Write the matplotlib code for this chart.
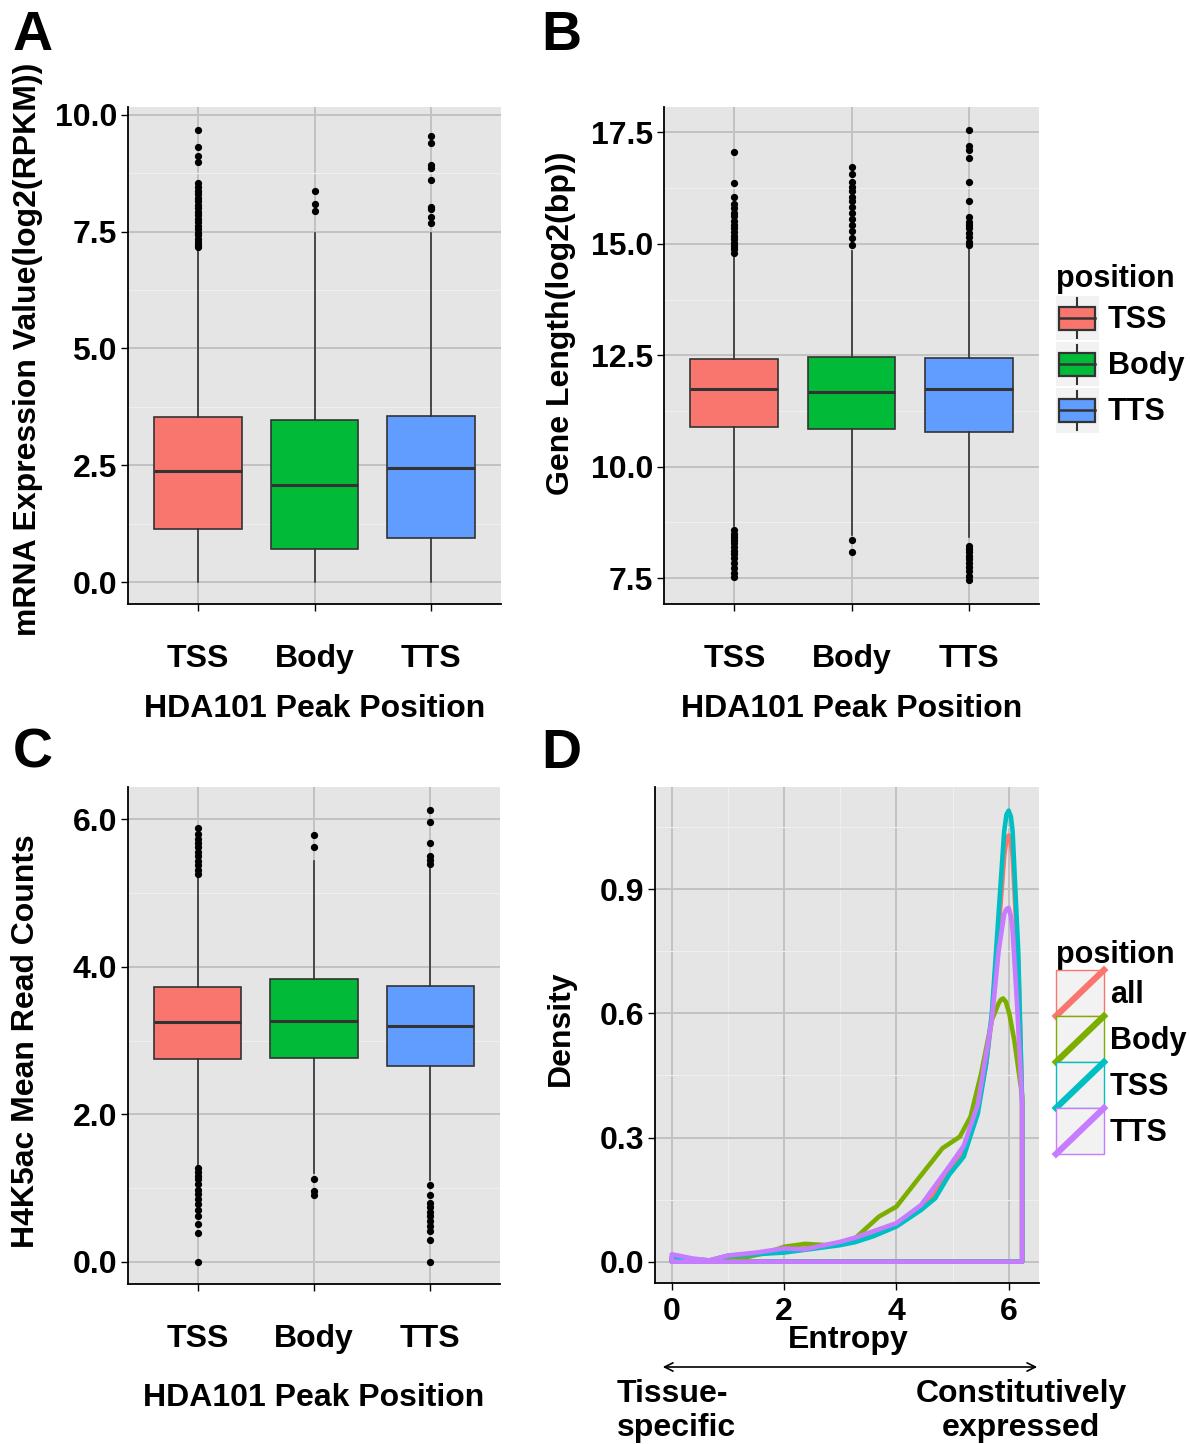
import matplotlib
matplotlib.use("Agg")
import matplotlib.pyplot as plt
from matplotlib.patches import Rectangle, Patch, FancyArrowPatch
from matplotlib.lines import Line2D
from matplotlib.ticker import MultipleLocator

plt.rcParams['font.family'] = ['Liberation Sans', 'DejaVu Sans']
plt.rcParams['font.weight'] = 'bold'
plt.rcParams['axes.labelweight'] = 'bold'

positions = ['TSS', 'Body', 'TTS']
box_colors = ['#F8766D', '#00BA38', '#619CFF']

# ---- panel A: mRNA expression, log2(RPKM)
a_q1 = [1.13, 0.71, 0.94]
a_med = [2.38, 2.08, 2.44]
a_q3 = [3.53, 3.47, 3.55]
a_lo = [0.0, 0.0, 0.0]
a_hi = [7.12, 7.47, 7.47]
a_fliers = [
    [9.68, 9.31, 9.13, 8.99, 8.54, 8.45, 8.38, 8.30, 8.22, 8.15, 8.08, 8.00, 7.92,
     7.85, 7.78, 7.70, 7.62, 7.55, 7.48, 7.42, 7.35, 7.28, 7.22, 7.17],
    [8.37, 8.09, 7.94],
    [9.54, 9.40, 8.92, 8.87, 8.60, 8.03, 7.99, 7.81, 7.69],
]

# ---- panel B: gene length, log2(bp)
b_q1 = [10.88, 10.84, 10.78]
b_med = [11.74, 11.67, 11.74]
b_q3 = [12.41, 12.46, 12.45]
b_lo = [8.66, 8.47, 8.43]
b_hi = [14.71, 14.85, 14.90]
b_fliers = [
    [17.07, 16.37, 16.04, 15.90, 15.80, 15.70, 15.62, 15.52, 15.42, 15.35, 15.27,
     15.18, 15.10, 15.02, 14.95, 14.88, 14.80,
     8.58, 8.50, 8.42, 8.35, 8.28, 8.20, 8.12, 8.05, 7.95, 7.85, 7.72, 7.62, 7.52],
    [16.73, 16.57, 16.38, 16.28, 16.18, 16.05, 15.95, 15.82, 15.70, 15.55, 15.42,
     15.28, 15.12, 14.98, 8.36, 8.08],
    [17.55, 17.19, 17.10, 16.93, 16.38, 15.95, 15.60, 15.50, 15.42, 15.35, 15.25,
     15.15, 15.05, 14.98, 8.22, 8.15, 8.08, 8.00, 7.92, 7.85, 7.75, 7.65, 7.55, 7.45],
]

# ---- panel C: H4K5ac mean read counts
c_q1 = [2.75, 2.77, 2.66]
c_med = [3.25, 3.26, 3.20]
c_q3 = [3.73, 3.84, 3.74]
c_lo = [1.30, 1.20, 1.11]
c_hi = [5.22, 5.43, 5.36]
c_fliers = [
    [5.88, 5.80, 5.74, 5.68, 5.62, 5.56, 5.50, 5.44, 5.38, 5.32, 5.26,
     1.27, 1.22, 1.17, 1.12, 1.05, 0.98, 0.92, 0.85, 0.78, 0.70, 0.62, 0.52, 0.385, 0.0],
    [5.79, 5.62, 1.13, 0.96, 0.91],
    [6.13, 5.97, 5.68, 5.50, 5.45, 5.40,
     1.04, 0.905, 0.80, 0.74, 0.68, 0.62, 0.55, 0.48, 0.42, 0.29, 0.0],
]

# ---- panel D: entropy densities
dens_groups = ['all', 'Body', 'TSS', 'TTS']
dens_colors = ['#F8766D', '#7CAE00', '#00BFC4', '#C77CFF']
all_x = [0, 0.35, 0.67, 1.0, 1.5, 2.0, 2.56, 3.0, 3.26, 3.6, 4.0, 4.44, 4.69, 4.94,
         5.2, 5.45, 5.6, 5.7, 5.82, 5.92, 5.96, 6.0, 6.04, 6.07, 6.17, 6.24]
all_y = [0.012, 0.006, 0.003, 0.014, 0.020, 0.025, 0.035, 0.043, 0.050, 0.065, 0.090,
         0.133, 0.165, 0.225, 0.270, 0.370, 0.480, 0.590, 0.800, 0.980, 1.020, 1.030,
         1.010, 0.980, 0.720, 0.380]
body_x = [0, 0.35, 0.67, 1.0, 1.3, 1.7, 2.0, 2.37, 2.74, 3.0, 3.26, 3.69, 4.0, 4.37,
          4.82, 5.13, 5.32, 5.51, 5.7, 5.82, 5.86, 5.9, 5.95, 6.01, 6.1, 6.24]
body_y = [0.005, 0.002, 0.0, 0.004, 0.010, 0.022, 0.036, 0.043, 0.040, 0.045, 0.056,
          0.109, 0.133, 0.197, 0.274, 0.302, 0.350, 0.455, 0.584, 0.624, 0.633, 0.636,
          0.628, 0.600, 0.535, 0.400]
tss_x = [0, 0.35, 0.67, 1.0, 1.5, 2.0, 2.56, 3.0, 3.26, 3.6, 4.0, 4.44, 4.69, 4.94,
         5.2, 5.45, 5.6, 5.7, 5.82, 5.92, 5.96, 6.0, 6.04, 6.07, 6.17, 6.24]
tss_y = [0.012, 0.006, 0.003, 0.014, 0.018, 0.022, 0.032, 0.040, 0.047, 0.062, 0.085,
         0.125, 0.153, 0.210, 0.254, 0.358, 0.480, 0.600, 0.840, 1.040, 1.080, 1.090,
         1.075, 1.040, 0.750, 0.380]
tts_x = [0, 0.36, 0.67, 1.0, 1.5, 2.0, 2.37, 3.0, 3.26, 4.0, 4.44, 4.94, 5.2, 5.45,
         5.7, 5.82, 5.92, 5.96, 6.0, 6.04, 6.07, 6.15, 6.24]
tts_y = [0.018, 0.008, 0.003, 0.015, 0.022, 0.032, 0.030, 0.048, 0.058, 0.093, 0.137,
         0.230, 0.280, 0.380, 0.584, 0.750, 0.840, 0.852, 0.855, 0.835, 0.800, 0.620, 0.380]
dens_x = [all_x, body_x, tss_x, tts_x]
dens_y = [all_y, body_y, tss_y, tts_y]

FS = 23      # tick labels, axis titles
LFS = 22     # legend
BG = '#E5E5E5'
MAJ = '#C2C2C2'
MIN = '#EFEFEF'


def style_axes(ax):
    ax.set_facecolor(BG)
    for s in ['top', 'right']:
        ax.spines[s].set_visible(False)
    for s in ['left', 'bottom']:
        ax.spines[s].set_color('black')
        ax.spines[s].set_linewidth(1.3)
    ax.grid(True, which='major', color=MAJ, linewidth=1.4)
    ax.grid(True, which='minor', color=MIN, linewidth=0.8)
    ax.set_axisbelow(True)
    ax.tick_params(which='major', length=5, width=1, color='black', labelsize=FS)
    ax.tick_params(which='minor', length=0)
    for t in ax.get_xticklabels() + ax.get_yticklabels():
        t.set_fontweight('bold')


def box_panel(ax, q1, med, q3, lo, hi, fliers, ylim, major, fmt):
    stats = []
    for i in range(3):
        stats.append(dict(med=med[i], q1=q1[i], q3=q3[i], whislo=lo[i], whishi=hi[i],
                          fliers=fliers[i], label=positions[i]))
    bp = ax.bxp(stats, positions=[1, 2, 3], widths=0.75, patch_artist=True,
                showcaps=False,
                boxprops=dict(edgecolor='#333333', linewidth=1.2),
                medianprops=dict(color='#333333', linewidth=2.2),
                whiskerprops=dict(color='#333333', linewidth=1.2),
                flierprops=dict(marker='o', markerfacecolor='black',
                                markeredgecolor='black', markersize=4.2))
    for patch, c in zip(bp['boxes'], box_colors):
        patch.set_facecolor(c)
    ax.set_xlim(0.4, 3.6)
    ax.set_ylim(*ylim)
    ax.yaxis.set_major_locator(MultipleLocator(major))
    ax.yaxis.set_minor_locator(MultipleLocator(major / 2))
    ax.yaxis.set_major_formatter(fmt)
    style_axes(ax)
    ax.tick_params(axis='x', pad=24)
    ax.tick_params(axis='y', pad=3)
    ax.set_xlabel('HDA101 Peak Position', fontsize=FS, fontweight='bold')


class BoxKey:
    def legend_artist(self, legend, orig_handle, fontsize, handlebox):
        x0, y0 = -handlebox.xdescent, -handlebox.ydescent
        w, h = handlebox.width, handlebox.height
        tr = handlebox.get_transform()
        bg = Rectangle((x0, y0), w, h, facecolor='#F2F2F2', edgecolor='none', transform=tr)
        handlebox.add_artist(bg)
        cx = x0 + w / 2
        for ya, yb in [(y0 + 0.05 * h, y0 + 0.24 * h), (y0 + 0.76 * h, y0 + 0.95 * h)]:
            handlebox.add_artist(Line2D([cx, cx], [ya, yb], color='#333333', lw=1.5,
                                        transform=tr))
        handlebox.add_artist(Rectangle((x0 + 0.08 * w, y0 + 0.24 * h), 0.84 * w, 0.52 * h,
                                       facecolor=orig_handle.get_facecolor(),
                                       edgecolor='#333333', lw=1.6, transform=tr))
        handlebox.add_artist(Line2D([x0 + 0.08 * w, x0 + 0.92 * w], [y0 + h / 2] * 2,
                                    color='#333333', lw=1.8, transform=tr))
        return bg


class DensKey:
    def legend_artist(self, legend, orig_handle, fontsize, handlebox):
        x0, y0 = -handlebox.xdescent, -handlebox.ydescent
        w, h = handlebox.width, handlebox.height
        tr = handlebox.get_transform()
        c = orig_handle.get_color()
        bg = Rectangle((x0, y0), w, h, facecolor='#F2F2F2', edgecolor=c, lw=1.0,
                       transform=tr)
        handlebox.add_artist(bg)
        handlebox.add_artist(Line2D([x0, x0 + w], [y0, y0 + h], color=c, lw=4.5,
                                    solid_capstyle='projecting', transform=tr))
        return bg


W, H = 1190, 1444
fig = plt.figure(figsize=(W / 100, H / 100), dpi=100)


def add_ax(x0, y0, x1, y1):
    return fig.add_axes([x0 / W, 1 - y1 / H, (x1 - x0) / W, (y1 - y0) / H])


fmt1 = matplotlib.ticker.FormatStrFormatter('%.1f')

# A
axA = add_ax(128, 107, 501, 604)
box_panel(axA, a_q1, a_med, a_q3, a_lo, a_hi, a_fliers, (-0.47, 10.17), 2.5, fmt1)
axA.set_ylabel('mRNA Expression Value(log2(RPKM))', fontsize=FS, fontweight='bold')
axA.yaxis.set_label_coords(-0.228, 0.513)
axA.xaxis.set_label_coords(0.5, -0.181)

# B
axB = add_ax(664, 107, 1039, 604)
box_panel(axB, b_q1, b_med, b_q3, b_lo, b_hi, b_fliers, (6.92, 18.07), 2.5, fmt1)
axB.set_ylabel('Gene Length(log2(bp))', fontsize=FS, fontweight='bold')
axB.yaxis.set_label_coords(-0.235, 0.565)
axB.xaxis.set_label_coords(0.5, -0.181)

# C
axC = add_ax(128, 787, 500, 1284)
box_panel(axC, c_q1, c_med, c_q3, c_lo, c_hi, c_fliers, (-0.30, 6.44), 2.0, fmt1)
axC.set_ylabel('H4K5ac Mean Read Counts', fontsize=FS, fontweight='bold')
axC.yaxis.set_label_coords(-0.234, 0.489)
axC.xaxis.set_label_coords(0.5, -0.199)

# D
axD = add_ax(655, 787, 1039, 1283)
for xs, ys, c in zip(dens_x, dens_y, dens_colors):
    px = [xs[0]] + xs + [xs[-1], xs[0]]
    py = [0] + ys + [0, 0]
    axD.plot(px, py, color=c, lw=3.3, solid_joinstyle='round', solid_capstyle='round')
axD.set_xlim(-0.30, 6.54)
axD.set_ylim(-0.0515, 1.147)
axD.xaxis.set_major_locator(MultipleLocator(2))
axD.xaxis.set_minor_locator(MultipleLocator(1))
axD.yaxis.set_major_locator(MultipleLocator(0.3))
axD.yaxis.set_minor_locator(MultipleLocator(0.15))
axD.yaxis.set_major_formatter(fmt1)
style_axes(axD)
axD.tick_params(axis='x', pad=5)
axD.tick_params(axis='y', pad=3)
axD.set_xlabel('Entropy', fontsize=FS, fontweight='bold')
axD.xaxis.set_label_coords(0.503, -0.085)
axD.set_ylabel('Density', fontsize=FS, fontweight='bold')
axD.yaxis.set_label_coords(-0.206, 0.514)

# legends
box_handles = [Patch(facecolor=c) for c in box_colors]
legB = fig.legend(box_handles, positions, loc='upper left',
                  bbox_to_anchor=(1056 / W, 1 - 264 / H), frameon=False, borderpad=0,
                  borderaxespad=0,
                  title='position', title_fontproperties={'size': LFS, 'weight': 'bold'},
                  prop={'size': LFS, 'weight': 'bold'}, handler_map={Patch: BoxKey()},
                  handlelength=1.4, handleheight=1.84, labelspacing=0.07,
                  handletextpad=0.3, alignment='left')

dens_handles = [Line2D([], [], color=c) for c in dens_colors]
legD = fig.legend(dens_handles, dens_groups, loc='upper left',
                  bbox_to_anchor=(1056 / W, 1 - 940 / H), frameon=False, borderpad=0,
                  borderaxespad=0,
                  title='position', title_fontproperties={'size': LFS, 'weight': 'bold'},
                  prop={'size': LFS, 'weight': 'bold'}, handler_map={Line2D: DensKey()},
                  handlelength=1.57, handleheight=1.94, labelspacing=0.0,
                  handletextpad=0.2, alignment='left')

# arrow and annotations under D
arrow = FancyArrowPatch((660 / W, 1 - 1367 / H), (1040 / W, 1 - 1367 / H),
                        transform=fig.transFigure, arrowstyle='<->,head_length=6,head_width=3',
                        color='black', lw=1.2)
fig.add_artist(arrow)
fig.text(617 / W, 1 - 1411 / H, 'Tissue-\nspecific', fontsize=FS, fontweight='bold',
         ha='left', va='center', linespacing=1.18)
fig.text(1021 / W, 1 - 1411 / H, 'Constitutively\nexpressed', fontsize=FS,
         fontweight='bold', ha='center', va='center', linespacing=1.18,
         multialignment='center')

# panel letters
for letter, x, y in [('A', 13, 36), ('B', 541, 36), ('C', 13, 754), ('D', 541, 754)]:
    fig.text(x / W, 1 - y / H, letter, fontsize=40, fontweight='bold', ha='left', va='center')

fig.savefig('out.png', dpi=100)
